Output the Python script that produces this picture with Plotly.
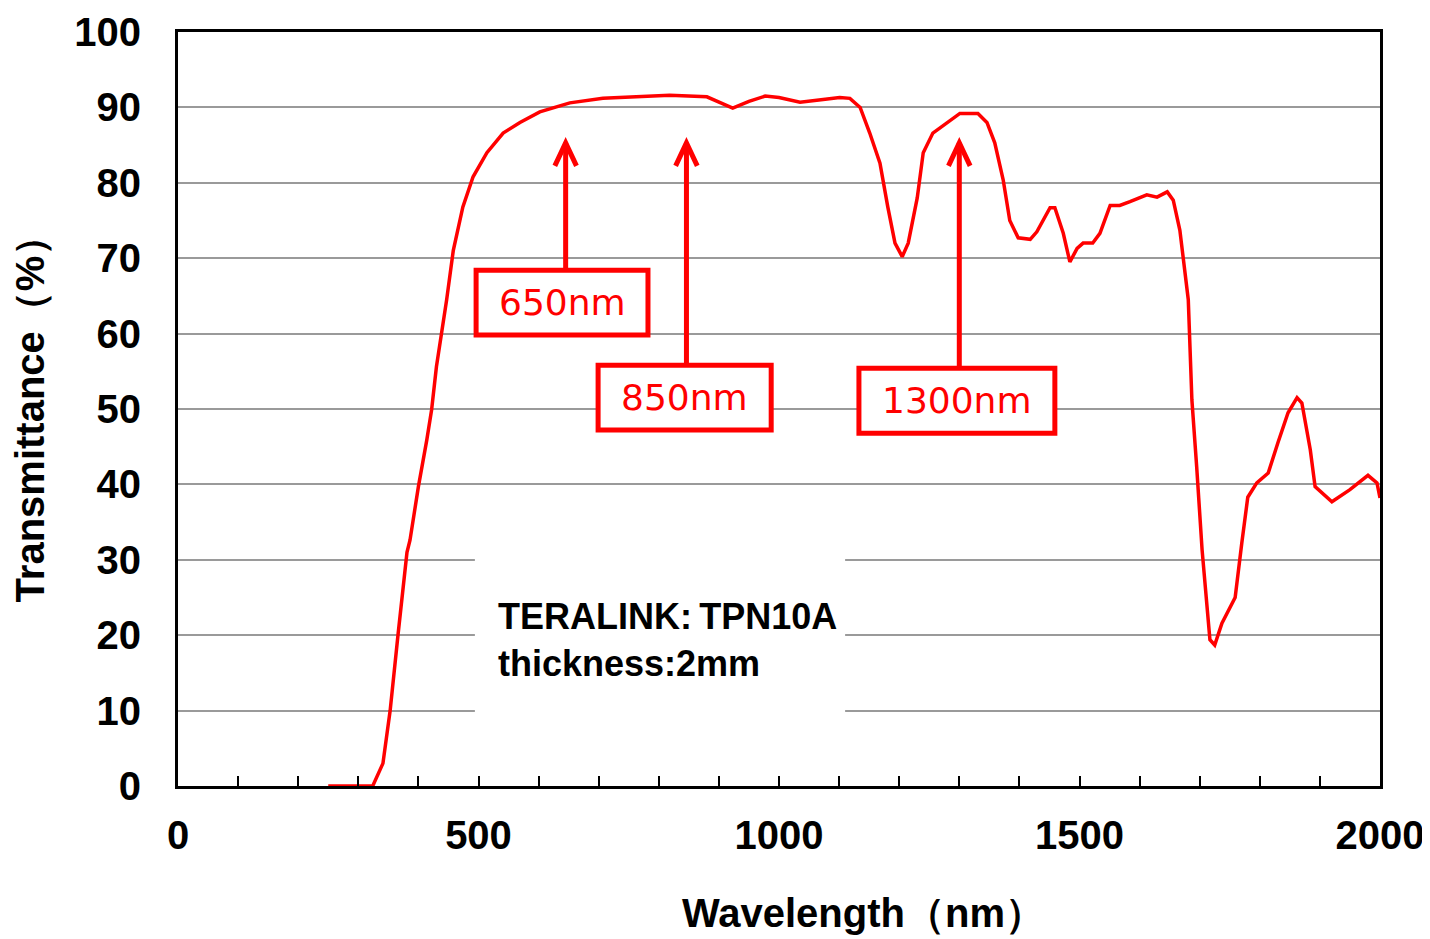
import plotly.graph_objects as go

wavelength = [250, 324, 341, 353, 366, 381, 386, 400, 414, 422, 430, 439, 447, 458, 474, 491,
              514, 541, 569, 602, 652, 707, 763, 818, 880, 923, 950, 977, 1000, 1035, 1070,
              1101, 1118, 1135, 1151, 1168, 1181, 1193, 1205, 1215, 1230, 1240, 1256, 1279,
              1301, 1331, 1346, 1359, 1373, 1384, 1398, 1418, 1429, 1451, 1459, 1473, 1484,
              1496, 1506, 1522, 1534, 1551, 1567, 1584, 1612, 1629, 1646, 1656, 1667, 1681,
              1687, 1695, 1704, 1717, 1725, 1737, 1759, 1770, 1780, 1795, 1814, 1830, 1847,
              1862, 1870, 1884, 1892, 1920, 1950, 1980, 1995, 2000]
transmittance = [0, 0, 3, 10, 20, 31, 32.6, 39.7, 45.9, 49.9, 55.6, 60, 64.5, 71, 76.8, 80.8,
                 84, 86.6, 88, 89.4, 90.6, 91.2, 91.4, 91.6, 91.4, 89.9, 90.8, 91.5, 91.3, 90.7,
                 91.0, 91.3, 91.2, 90, 86.6, 82.6, 76.8, 72, 70.2, 72, 78, 84, 86.6, 88, 89.2,
                 89.2, 88, 85.3, 80.4, 75, 72.7, 72.5, 73.5, 76.7, 76.7, 73.3, 69.5, 71.3, 72,
                 72, 73.3, 77, 77, 77.5, 78.4, 78.1, 78.8, 77.7, 73.7, 64.5, 51.2, 42.3, 31.3,
                 19.4, 18.7, 21.6, 25, 32.2, 38.3, 40.2, 41.5, 45.5, 49.5, 51.5, 50.8, 44.6,
                 39.7, 37.7, 39.3, 41.2, 40.2, 38.2]

labels = ["650nm", "850nm", "1300nm"]
arrow_x = [645, 846, 1300]
arrow_tip = 85.3
boxes = [(496, 782, 59.8, 68.4), (699, 987, 47.2, 55.8), (1133, 1459, 46.8, 55.4)]

x_ticks = [0, 500, 1000, 1500, 2000]
y_ticks = list(range(0, 101, 10))

RED = "#ff0000"
FONT = "Liberation Sans, Arial, sans-serif"

fig = go.Figure()
fig.add_trace(go.Scatter(x=wavelength, y=transmittance, mode="lines",
                         line=dict(color=RED, width=3.5), showlegend=False))

shapes = []
annotations = []
# white box behind the sample text (interrupts gridlines)
shapes.append(dict(type="rect", xref="x", yref="y", x0=494, x1=1110, y0=8, y1=32,
                   fillcolor="white", line=dict(width=0), layer="between"))
for lab, ax, (x0, x1, y0, y1) in zip(labels, arrow_x, boxes):
    shapes.append(dict(type="rect", xref="x", yref="y", x0=x0, x1=x1, y0=y0, y1=y1,
                       line=dict(color=RED, width=5), fillcolor="white", layer="above"))
    shapes.append(dict(type="line", xref="x", yref="y", x0=ax, x1=ax, y0=y1, y1=arrow_tip,
                       line=dict(color=RED, width=5), layer="above"))
    shapes.append(dict(type="path", xref="x", yref="y",
                       path=f"M {ax-18},{arrow_tip-3.05} L {ax},{arrow_tip} L {ax+18},{arrow_tip-3.05}",
                       line=dict(color=RED, width=5), layer="above"))
    annotations.append(dict(x=(x0 + x1) / 2, y=(y0 + y1) / 2, xref="x", yref="y",
                            text=lab, showarrow=False,
                            font=dict(family="DejaVu Sans", size=36, color=RED)))

annotations.append(dict(x=529, y=25.5, xref="x", yref="y", xanchor="left", yanchor="top",
                        align="left", showarrow=False,
                        text="<b>TERALINK:\u2009TPN10A</b><br><b>thickness:2mm</b>",
                        font=dict(family=FONT, size=36, color="black")))

# x-axis title (placed to match the original's off-centre position)
annotations.append(dict(x=0.4176, y=-0.168, xref="paper", yref="paper",
                        xanchor="left", yanchor="middle", showarrow=False,
                        text="<b>Wavelength（nm）</b>",
                        font=dict(family=FONT, size=40, color="black")))

fig.update_layout(
    width=1422, height=931,
    margin=dict(l=170, r=50, t=24, b=153),
    paper_bgcolor="white", plot_bgcolor="white",
    shapes=shapes, annotations=annotations,
    font=dict(family=FONT, color="black"),
)
fig.update_xaxes(range=[0, 2000], tickvals=x_ticks, ticks="inside", ticklen=10, tickwidth=2,
                 tickcolor="black", automargin=False,
                 minor=dict(dtick=100, ticks="inside", ticklen=10, tickwidth=2, tickcolor="black"),
                 showgrid=False, zeroline=False,
                 showline=True, linecolor="black", linewidth=3, mirror=True,
                 tickfont=dict(family=FONT, size=40, color="black", weight="bold"),
                 ticklabelstandoff=12)
fig.update_yaxes(range=[0, 100], tickvals=y_ticks, ticks="", showgrid=True,
                 gridcolor="#9a9a9a", gridwidth=2, zeroline=False, automargin=False,
                 showline=True, linecolor="black", linewidth=3, mirror=True,
                 tickfont=dict(family=FONT, size=40, color="black", weight="bold"),
                 ticklabelstandoff=26,
                 title=dict(text="<b>Transmittance（%）</b>", standoff=30,
                            font=dict(family=FONT, size=40, color="black")))

fig.write_html("out.html")
